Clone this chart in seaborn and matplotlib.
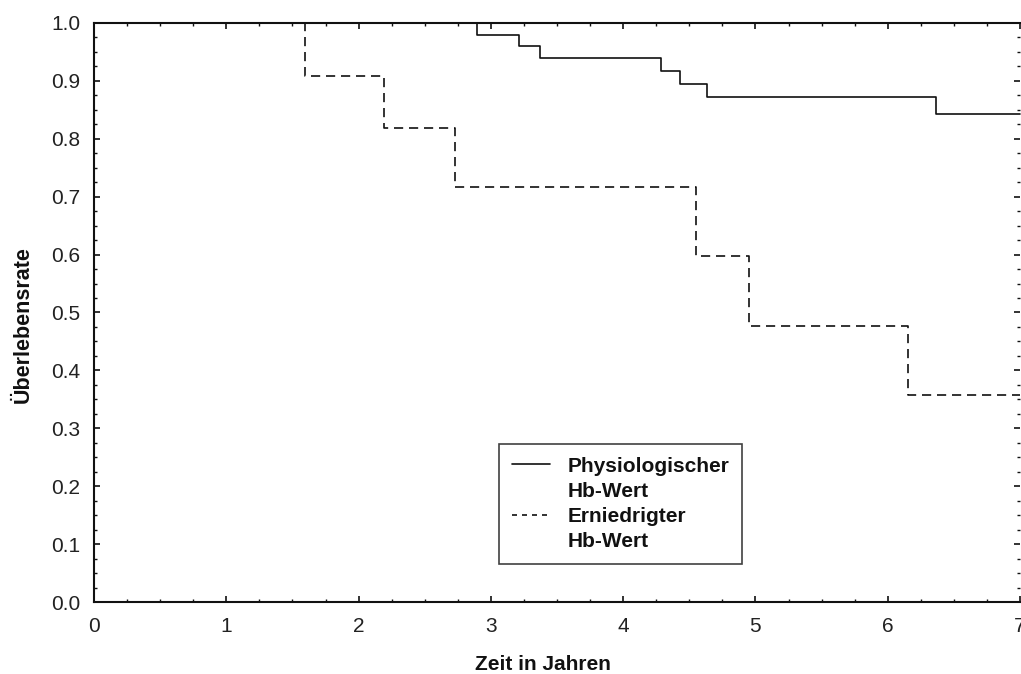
import numpy as np
import pandas as pd
import seaborn as sns
import matplotlib
matplotlib.use("Agg")
import matplotlib.pyplot as plt
from matplotlib.lines import Line2D
from matplotlib.ticker import MultipleLocator, FormatStrFormatter

# Kaplan-Meier step values (time in years, survival after each event)
phys_time = [0.0, 2.897, 3.215, 3.374, 4.283, 4.429, 4.636, 6.364, 7.0]
phys_surv = [1.0, 0.980, 0.960, 0.940, 0.917, 0.894, 0.872, 0.842, 0.842]

low_time = [0.0, 1.595, 2.192, 2.726, 4.553, 4.951, 6.153, 7.0]
low_surv = [1.0, 0.909, 0.818, 0.716, 0.597, 0.477, 0.358, 0.358]

group_labels = ["Physiologischer\nHb-Wert", "Erniedrigter\nHb-Wert"]
x_label = "Zeit in Jahren"
y_label = "Überlebensrate"

df = pd.concat([
    pd.DataFrame({"Zeit": phys_time, "Rate": phys_surv, "Gruppe": group_labels[0]}),
    pd.DataFrame({"Zeit": low_time, "Rate": low_surv, "Gruppe": group_labels[1]}),
], ignore_index=True)

sns.set_theme(style="white")
plt.rcParams["font.family"] = ["Liberation Sans", "DejaVu Sans"]

W, H = 1021, 674
fig = plt.figure(figsize=(W / 100, H / 100), dpi=100)
ax = fig.add_axes([94 / W, (H - 602) / H, 926 / W, 579 / H])

line_styles = {group_labels[0]: "-", group_labels[1]: (0, (5.5, 3.5))}
for grp, sub in df.groupby("Gruppe", sort=False):
    sns.lineplot(data=sub, x="Zeit", y="Rate", ax=ax, color="#111111",
                 linewidth=1.2, estimator=None, sort=False,
                 drawstyle="steps-post", linestyle=line_styles[grp],
                 legend=False, clip_on=False)

ax.set_xlim(0, 7)
ax.set_ylim(0, 1)
ax.xaxis.set_major_locator(MultipleLocator(1))
ax.xaxis.set_minor_locator(MultipleLocator(0.25))
ax.yaxis.set_major_locator(MultipleLocator(0.1))
ax.yaxis.set_minor_locator(MultipleLocator(0.025))
ax.yaxis.set_major_formatter(FormatStrFormatter("%.1f"))
ax.xaxis.set_major_formatter(FormatStrFormatter("%d"))

for side in ["left", "bottom", "top"]:
    ax.spines[side].set_visible(True)
    ax.spines[side].set_color("#111111")
    ax.spines[side].set_linewidth(1.5)
ax.spines["right"].set_visible(False)

ax.tick_params(which="both", direction="in", top=True, right=True,
               bottom=True, left=True, color="#111111")
ax.tick_params(which="major", length=4, width=1.2)
ax.tick_params(which="minor", length=2.5, width=1.0)
ax.tick_params(axis="x", which="major", pad=11, labelsize=15, labelcolor="#222222")
ax.tick_params(axis="y", which="major", pad=10, labelsize=15, labelcolor="#222222")

ax.set_xlabel(x_label, fontsize=15, fontweight="bold", color="#111111")
ax.set_ylabel(y_label, fontsize=15.5, fontweight="bold", color="#111111")
ax.xaxis.set_label_coords((542.5 - 94) / 926, (602 - 655) / 579)
ax.yaxis.set_label_coords((34 - 94) / 926, (602 - 325) / 579)

# Legend: each two-line label split so the key sits beside the first line
handles = [
    Line2D([], [], color="#111111", linewidth=1.2, linestyle="-"),
    Line2D([], [], color="none"),
    Line2D([], [], color="#111111", linewidth=1.2, linestyle=(0, (3, 3))),
    Line2D([], [], color="none"),
]
labels = ["Physiologischer", "Hb-Wert", "Erniedrigter", "Hb-Wert"]
leg = ax.legend(handles, labels, loc="upper left",
                bbox_to_anchor=((499 - 94) / 926, (602 - 444) / 579),
                borderaxespad=0, frameon=True, fancybox=False,
                prop={"size": 15, "weight": "bold"},
                handlelength=1.85, handletextpad=0.85, borderpad=0.6,
                labelspacing=0.3)
leg.get_frame().set_edgecolor("#111111")
leg.get_frame().set_linewidth(1.2)
for t in leg.get_texts():
    t.set_color("#111111")

fig.savefig("out.png", dpi=100, facecolor="white")
